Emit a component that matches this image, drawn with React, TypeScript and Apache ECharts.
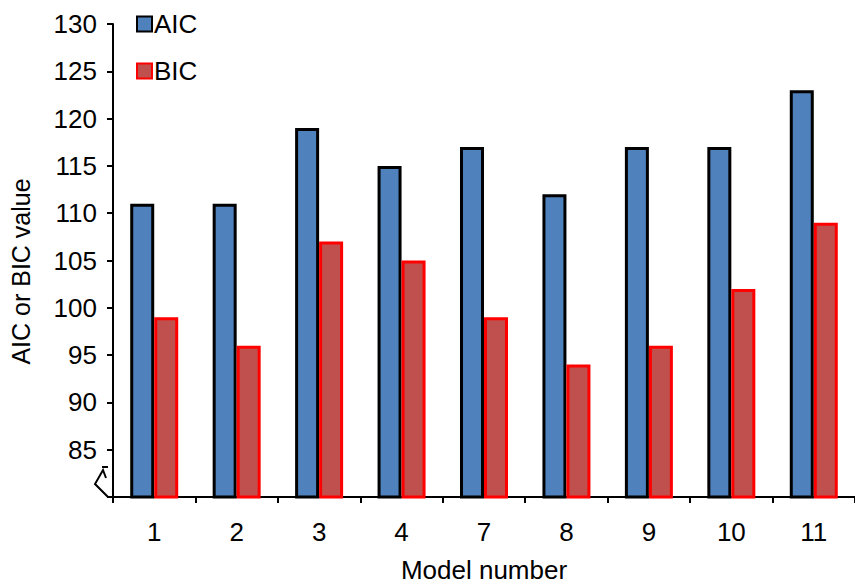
import React, { useEffect, useRef } from "react";
import * as echarts from "echarts";

const models = ["1", "2", "3", "4", "7", "8", "9", "10", "11"];
const aicValues = [111, 111, 119, 115, 117, 112, 117, 117, 123];
const bicValues = [99, 96, 107, 105, 99, 94, 96, 102, 109];

const FONT = "'Liberation Sans', Arial, sans-serif";

export default function App() {
  const ref = useRef<HTMLDivElement>(null);

  useEffect(() => {
    if (!ref.current) return;
    const chart = echarts.init(ref.current, null, { renderer: "svg" });
    chart.setOption({
      animation: false,
      backgroundColor: "#ffffff",
      textStyle: { fontFamily: FONT },
      grid: { left: 108, right: -5, top: 24, bottom: 86, containLabel: false },
      legend: {
        orient: "vertical",
        left: 131,
        top: 6,
        icon: "rect",
        itemWidth: 15,
        itemHeight: 15,
        itemGap: 21,
        textStyle: { fontSize: 26, color: "#000", fontFamily: FONT, padding: [0, 0, 0, -3] },
        data: ["AIC", "BIC"],
      },
      xAxis: {
        type: "category",
        data: models,
        name: "Model number",
        nameLocation: "middle",
        nameGap: 60,
        nameTextStyle: { fontSize: 26, color: "#000", fontFamily: FONT },
        axisLine: { lineStyle: { color: "#000", width: 2 } },
        axisTick: { show: true, length: 6, lineStyle: { color: "#000", width: 2 } },
        axisLabel: { fontSize: 26, color: "#000", margin: 22, fontFamily: FONT },
      },
      yAxis: {
        type: "value",
        min: 80,
        max: 130,
        interval: 5,
        name: "AIC or BIC value",
        nameLocation: "middle",
        nameGap: 80,
        nameTextStyle: { fontSize: 25, color: "#000", fontFamily: FONT, padding: [0, 22, 0, 0] },
        axisLine: { show: true, lineStyle: { color: "#000", width: 2 } },
        axisTick: { show: true, length: 6, lineStyle: { color: "#000", width: 2 } },
        splitLine: { show: false },
        axisLabel: {
          fontSize: 26,
          color: "#000",
          margin: 16,
          fontFamily: FONT,
          formatter: (v: number) => (v === 80 ? "" : String(v)),
        },
      },
      series: [
        {
          name: "AIC",
          type: "bar",
          data: aicValues,
          barWidth: 24,
          barGap: "0%",
          itemStyle: { color: "#4F81BD", borderColor: "#000", borderWidth: 3 },
        },
        {
          name: "BIC",
          type: "bar",
          data: bicValues,
          barWidth: 24,
          barGap: "0%",
          itemStyle: { color: "#C0504D", borderColor: "#FF0000", borderWidth: 3 },
        },
      ],
      graphic: [
        // axis break mark below the 85 tick
        {
          type: "line",
          shape: { x1: 102, y1: 467, x2: 108, y2: 467 },
          style: { stroke: "#000", lineWidth: 2 },
        },
        {
          type: "polyline",
          shape: { points: [[106, 478], [103, 470], [95, 484], [108, 497]] },
          style: { stroke: "#000", lineWidth: 2, fill: "none" },
        },
      ],
    });
    return () => chart.dispose();
  }, []);

  return (
    <div
      ref={ref}
      style={{ position: "absolute", left: 0, top: 0, width: 855, height: 588 }}
    />
  );
}
